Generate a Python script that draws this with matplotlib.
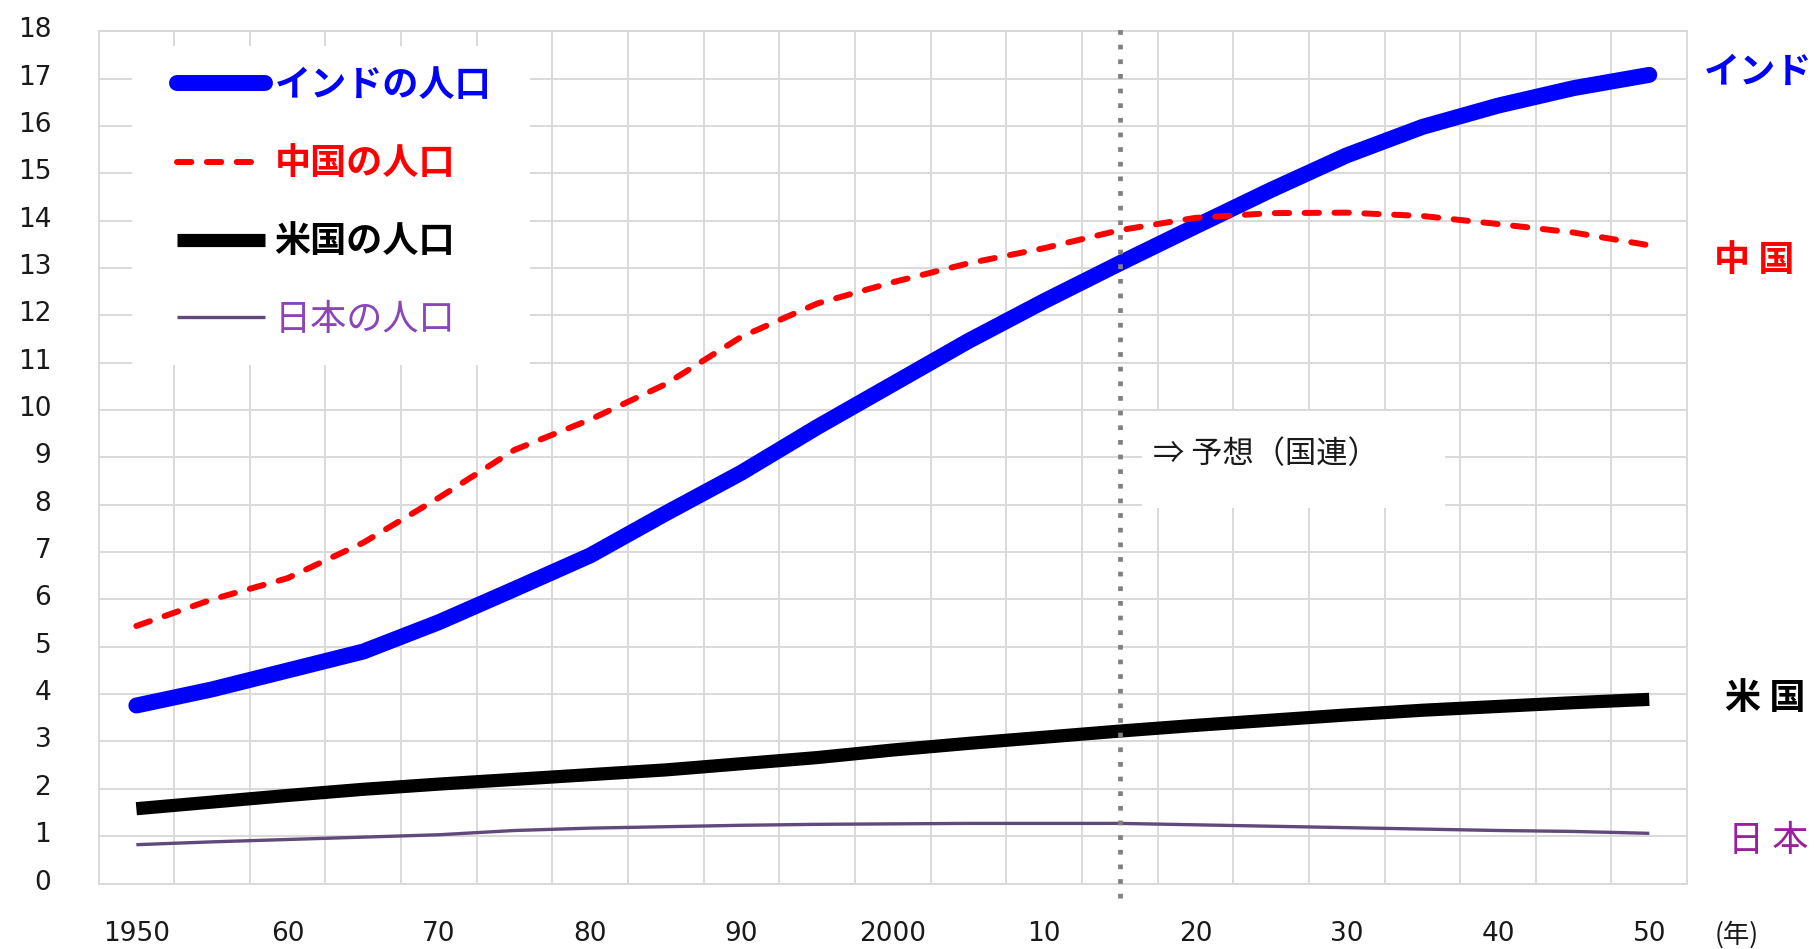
import matplotlib
matplotlib.use("Agg")
import matplotlib.pyplot as plt
from matplotlib.patches import Rectangle
from matplotlib.transforms import ScaledTranslation

plt.rcParams['font.family'] = ['Noto Sans CJK JP', 'DejaVu Sans']

# ---------------- data (100 million people) ----------------
years = [1950, 1955, 1960, 1965, 1970, 1975, 1980, 1985, 1990, 1995, 2000,
         2005, 2010, 2015, 2020, 2025, 2030, 2035, 2040, 2045, 2050]
india = [3.76, 4.10, 4.50, 4.90, 5.52, 6.22, 6.93, 7.82, 8.68, 9.64, 10.55,
         11.46, 12.30, 13.10, 13.88, 14.65, 15.38, 15.98, 16.43, 16.80, 17.08]
china = [5.44, 6.00, 6.45, 7.20, 8.15, 9.16, 9.80, 10.55, 11.55, 12.25, 12.70,
         13.10, 13.42, 13.80, 14.06, 14.16, 14.17, 14.10, 13.93, 13.75, 13.48]
usa = [1.58, 1.72, 1.86, 1.99, 2.10, 2.20, 2.30, 2.40, 2.53, 2.66, 2.82,
       2.96, 3.09, 3.22, 3.34, 3.45, 3.56, 3.66, 3.74, 3.82, 3.89]
japan = [0.82, 0.88, 0.93, 0.98, 1.03, 1.12, 1.17, 1.20, 1.23, 1.25, 1.26,
         1.27, 1.27, 1.27, 1.24, 1.21, 1.18, 1.15, 1.12, 1.10, 1.06]

legend_labels = ["インドの人口", "中国の人口", "米国の人口", "日本の人口"]
end_labels = ["インド", "中 国", "米 国", "日 本"]
xtick_pos = [1950, 1960, 1970, 1980, 1990, 2000, 2010, 2020, 2030, 2040, 2050]
xtick_labels = ["1950", "60", "70", "80", "90", "2000", "10", "20", "30", "40", "50"]
yticks = list(range(0, 19))
forecast_start = 2015
forecast_label = "⇒ 予想（国連）"
year_unit = "(年)"

# ---------------- figure ----------------
fig = plt.figure(figsize=(18.18, 9.49), dpi=100)
ax = fig.add_axes([0.0542, 0.0690, 0.8738, 0.8980])
ax.set_xlim(1947.5, 2052.5)
ax.set_ylim(0, 18)

grid_c = "#D9D9D9"
ax.set_axisbelow(True)
ax.set_yticks(yticks)
ax.set_xticks(xtick_pos)
ax.set_xticklabels(xtick_labels)
ax.set_xticks([y + 2.5 for y in years[:-1]], minor=True)
ax.yaxis.grid(True, color=grid_c, lw=1.4)
ax.xaxis.grid(True, which='minor', color=grid_c, lw=1.4)
ax.xaxis.grid(False, which='major')
ax.tick_params(axis='both', which='both', length=0)
ax.tick_params(axis='x', pad=27)
ax.tick_params(axis='y', pad=34)
shift_up = ScaledTranslation(0, 4 / 100, fig.dpi_scale_trans)
for lab in ax.get_xticklabels() + ax.get_yticklabels():
    lab.set_fontfamily('DejaVu Sans')
    lab.set_fontsize(19)
    lab.set_color('#1a1a1a')
for lab in ax.get_yticklabels():
    lab.set_transform(lab.get_transform() + shift_up)
for s in ax.spines.values():
    s.set_color(grid_c)
    s.set_linewidth(1.4)

# white boxes (legend area and forecast note)
ax.add_patch(Rectangle((1949.7, 10.96), 26.3, 6.72, facecolor='white',
                       edgecolor='none', zorder=1))
ax.add_patch(Rectangle((2016.5, 7.93), 20.0, 2.05, facecolor='white',
                       edgecolor='none', zorder=1))

# ---------------- lines ----------------
l_jp, = ax.plot(years, japan, color='#604A7B', lw=2.4, zorder=2,
                label=legend_labels[3], solid_capstyle='butt')
l_us, = ax.plot(years, usa, color='black', lw=9.5, zorder=3,
                label=legend_labels[2], solid_capstyle='butt')
l_in, = ax.plot(years, india, color='#0000FF', lw=11.5, zorder=4,
                label=legend_labels[0], solid_capstyle='round',
                solid_joinstyle='round')
l_cn, = ax.plot(years, china, color='#FF0000', lw=4.3, zorder=5,
                label=legend_labels[1], linestyle=(0, (2.4, 2.6)),
                dash_capstyle='round')

ax.axvline(forecast_start, ymin=-0.3 / 18, ymax=18.2 / 18, color='#808080',
           lw=3.4, linestyle=(0, (1, 2.1)), dash_capstyle='butt',
           clip_on=False, zorder=6)

# ---------------- legend ----------------
leg = ax.legend(handles=[l_in, l_cn, l_us, l_jp], loc='upper left',
                bbox_to_anchor=(0.0494, 0.958), frameon=False, borderpad=0,
                borderaxespad=0, handlelength=2.45, handletextpad=0.25,
                labelspacing=1.14, prop={'size': 26})
leg_colors = ['#0000FF', '#FF0000', 'black', '#8A45B8']
leg_weights = ['bold', 'bold', 'bold', 'normal']
for t, c, w in zip(leg.get_texts(), leg_colors, leg_weights):
    t.set_color(c)
    t.set_fontweight(w)
leg.set_zorder(7)

# ---------------- annotations ----------------
ax.text(2017.2, 9.08, forecast_label, fontsize=22.5, color='#1a1a1a',
        ha='left', va='center', zorder=7)

end_pos = [(2053.6, india[-1] + 0.05), (2054.3, 13.15), (2055.0, 3.9), (2055.2, 0.9)]
end_colors = ['#0000FF', '#FF0000', 'black', '#9A1F9A']
end_weights = ['bold', 'bold', 'bold', 'normal']
for (x, y), txt, c, w in zip(end_pos, end_labels, end_colors, end_weights):
    ax.text(x, y, txt, fontsize=26, color=c, fontweight=w, ha='left',
            va='center', clip_on=False)

fig.text(0.9554, 0.0148, year_unit, fontsize=19, color='#1a1a1a',
         ha='center', va='center')

fig.savefig("out.png", dpi=100, facecolor='white')
